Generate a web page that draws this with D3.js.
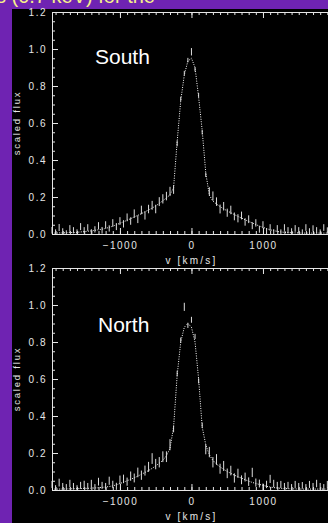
<!DOCTYPE html>
<html>
<head>
<meta charset="utf-8">
<script src="https://cdn.jsdelivr.net/npm/d3@7"></script>
<style>
  html, body { margin: 0; padding: 0; background: #6f23b2; overflow: hidden; }
  svg { display: block; }
</style>
</head>
<body>
<script>
// line profiles (0.7 keV) - South / North

const vel = [
  -1950, -1900, -1850, -1800, -1750, -1700, -1650, -1600, -1550, -1500,
  -1450, -1400, -1350, -1300, -1250, -1200, -1150, -1100, -1050, -1000,
  -950, -900, -850, -800, -750, -700, -650, -600, -550, -500,
  -450, -400, -350, -300, -250, -200, -150, -100, -50, 0,
  50, 100, 150, 200, 250, 300, 350, 400, 450, 500,
  550, 600, 650, 700, 750, 800, 850, 900, 950, 1000,
  1050, 1100, 1150, 1200, 1250, 1300, 1350, 1400, 1450, 1500,
  1550, 1600, 1650, 1700, 1750, 1800, 1850, 1900, 1950
]

const southModel = [
  0.005, 0.005, 0.006, 0.006, 0.007, 0.008, 0.008, 0.009, 0.011, 0.013,
  0.015, 0.017, 0.020, 0.023, 0.026, 0.030, 0.036, 0.042, 0.050, 0.058,
  0.066, 0.074, 0.083, 0.092, 0.101, 0.110, 0.120, 0.130, 0.140, 0.152,
  0.165, 0.180, 0.195, 0.212, 0.250, 0.500, 0.720, 0.860, 0.935, 0.950,
  0.900, 0.740, 0.560, 0.330, 0.210, 0.178, 0.162, 0.148, 0.136, 0.125,
  0.115, 0.105, 0.095, 0.086, 0.077, 0.068, 0.060, 0.051, 0.043, 0.036,
  0.029, 0.023, 0.018, 0.014, 0.011, 0.009, 0.008, 0.007, 0.006, 0.006,
  0.005, 0.005, 0.005, 0.005, 0.005, 0.005, 0.005, 0.005, 0.005
]
const southFlux = [
  0.020, 0.010, 0.035, 0.015, 0.005, 0.030, 0.020, 0.010, 0.040, 0.020,
  0.035, 0.010, 0.025, 0.045, 0.020, 0.050, 0.030, 0.060, 0.040, 0.070,
  0.055, 0.090, 0.070, 0.110, 0.080, 0.130, 0.100, 0.135, 0.155, 0.135,
  0.175, 0.190, 0.205, 0.230, 0.240, 0.490, 0.730, 0.870, 0.940, 0.985,
  0.890, 0.750, 0.550, 0.320, 0.230, 0.205, 0.175, 0.135, 0.150, 0.115,
  0.130, 0.095, 0.085, 0.100, 0.065, 0.080, 0.045, 0.060, 0.025, 0.050,
  0.015, 0.035, 0.010, 0.030, 0.010, 0.035, 0.020, 0.015, 0.030, 0.020,
  0.010, 0.035, 0.015, 0.030, 0.020, 0.010, 0.035, 0.020, 0.030
]
const southErr = [
  0.018, 0.015, 0.019, 0.016, 0.015, 0.018, 0.017, 0.015, 0.019, 0.017,
  0.018, 0.016, 0.017, 0.019, 0.018, 0.019, 0.017, 0.020, 0.019, 0.021,
  0.020, 0.021, 0.020, 0.023, 0.021, 0.023, 0.022, 0.023, 0.024, 0.023,
  0.024, 0.025, 0.023, 0.025, 0.023, 0.015, 0.012, 0.012, 0.012, 0.020,
  0.012, 0.012, 0.012, 0.012, 0.023, 0.025, 0.023, 0.024, 0.023, 0.022,
  0.023, 0.021, 0.022, 0.021, 0.020, 0.021, 0.019, 0.020, 0.018, 0.019,
  0.017, 0.018, 0.016, 0.018, 0.015, 0.018, 0.017, 0.016, 0.018, 0.017,
  0.015, 0.018, 0.016, 0.017, 0.017, 0.015, 0.018, 0.016, 0.017
]

const northModel = [
  0.005, 0.005, 0.005, 0.005, 0.006, 0.006, 0.007, 0.007, 0.008, 0.008,
  0.009, 0.010, 0.011, 0.012, 0.014, 0.016, 0.019, 0.022, 0.028, 0.035,
  0.042, 0.050, 0.058, 0.066, 0.075, 0.085, 0.095, 0.105, 0.117, 0.130,
  0.145, 0.160, 0.185, 0.225, 0.340, 0.620, 0.800, 0.880, 0.900, 0.880,
  0.800, 0.600, 0.340, 0.245, 0.190, 0.160, 0.140, 0.125, 0.112, 0.100,
  0.090, 0.080, 0.072, 0.064, 0.056, 0.048, 0.041, 0.035, 0.030, 0.025,
  0.020, 0.016, 0.013, 0.011, 0.009, 0.008, 0.007, 0.006, 0.006, 0.005,
  0.005, 0.005, 0.005, 0.005, 0.005, 0.005, 0.005, 0.005, 0.005
]
const northFlux = [
  0.030, 0.010, 0.040, 0.020, 0.015, 0.035, 0.020, 0.010, 0.025, 0.030,
  0.020, 0.035, 0.015, 0.045, 0.025, 0.020, 0.050, 0.030, 0.020, 0.055,
  0.060, 0.045, 0.075, 0.065, 0.095, 0.080, 0.105, 0.125, 0.170, 0.140,
  0.150, 0.180, 0.180, 0.245, 0.330, 0.630, 0.810, 0.990, 0.890, 0.920,
  0.830, 0.590, 0.350, 0.220, 0.205, 0.150, 0.165, 0.115, 0.130, 0.090,
  0.105, 0.065, 0.090, 0.055, 0.070, 0.045, 0.095, 0.040, 0.035, 0.015,
  0.030, 0.060, 0.035, 0.025, 0.030, 0.020, 0.025, 0.015, 0.030, 0.020,
  0.025, 0.015, 0.030, 0.020, 0.035, 0.020, 0.015, 0.030, 0.025
]
const northErr = [
  0.019, 0.016, 0.021, 0.018, 0.017, 0.020, 0.018, 0.016, 0.019, 0.020,
  0.018, 0.020, 0.017, 0.021, 0.019, 0.018, 0.022, 0.020, 0.019, 0.023,
  0.023, 0.022, 0.025, 0.024, 0.026, 0.025, 0.027, 0.027, 0.029, 0.028,
  0.028, 0.029, 0.029, 0.030, 0.018, 0.015, 0.014, 0.022, 0.014, 0.016,
  0.014, 0.014, 0.014, 0.027, 0.028, 0.028, 0.029, 0.027, 0.027, 0.026,
  0.026, 0.025, 0.025, 0.024, 0.024, 0.023, 0.025, 0.022, 0.021, 0.020,
  0.020, 0.022, 0.020, 0.019, 0.019, 0.018, 0.019, 0.017, 0.019, 0.018,
  0.018, 0.017, 0.019, 0.018, 0.020, 0.018, 0.017, 0.019, 0.018
]

const yTicks = [0, 0.2, 0.4, 0.6, 0.8, 1.0, 1.2]
const xTicks = [-1000, 0, 1000]
const headerText = 's (0.7 keV) for the'

const W = 328, H = 523
const ink = '#e6e6e6'
const font = '"Liberation Sans", Arial, Helvetica, sans-serif'

const svg = d3.select('body').append('svg')
  .attr('width', W)
  .attr('height', H)

// purple slide background + black figure
svg.append('rect').attr('width', W).attr('height', H).attr('fill', '#6f23b2')
svg.append('rect').attr('x', 12).attr('y', 9).attr('width', W - 12).attr('height', H - 9).attr('fill', '#000')

svg.append('text')
  .attr('x', 155)
  .attr('y', 3)
  .attr('text-anchor', 'end')
  .attr('font-family', font)
  .attr('font-size', '20px')
  .attr('fill', '#f6f08a')
  .text(headerText)

const x = d3.scaleLinear().domain([-1950, 2000]).range([52, 334.5])

function drawPanel(top, bottom, label, labelX, labelY, model, flux, err) {
  const y = d3.scaleLinear().domain([0, 1.2]).range([bottom, top])
  const g = svg.append('g')

  // minor ticks
  g.append('g')
    .attr('transform', `translate(52,0)`)
    .call(d3.axisLeft(y).tickValues(d3.range(0, 1.201, 0.05)).tickSize(-3).tickSizeOuter(0).tickFormat(''))
  g.append('g')
    .attr('transform', `translate(0,${bottom})`)
    .call(d3.axisBottom(x).tickValues(d3.range(-1900, 2000, 100)).tickSize(-3).tickSizeOuter(0).tickFormat(''))
  g.append('g')
    .attr('transform', `translate(0,${top})`)
    .call(d3.axisTop(x).tickValues(d3.range(-1900, 2000, 100)).tickSize(-3).tickSizeOuter(0).tickFormat(''))

  // major ticks + labels
  g.append('g')
    .attr('transform', `translate(52,0)`)
    .call(d3.axisLeft(y).tickValues(yTicks).tickSize(-6).tickSizeOuter(0).tickPadding(5).tickFormat(d3.format('.1f')))
  g.append('g')
    .attr('transform', `translate(0,${bottom})`)
    .call(d3.axisBottom(x).tickValues(xTicks).tickSize(-6).tickSizeOuter(0).tickPadding(8)
      .tickFormat(d => d < 0 ? '\u2212' + Math.abs(d) : String(d)))
  g.append('g')
    .attr('transform', `translate(0,${top})`)
    .call(d3.axisTop(x).tickValues(xTicks).tickSize(-6).tickSizeOuter(0).tickFormat(''))

  g.selectAll('.domain, .tick line').attr('stroke', ink).attr('stroke-width', 1)
  g.selectAll('.tick text')
    .attr('fill', ink)
    .attr('font-family', font)
    .attr('font-size', '10px')
    .attr('letter-spacing', '1.5px')

  // axis titles
  g.append('text')
    .attr('transform', `translate(20,${(top + bottom) / 2}) rotate(-90)`)
    .attr('text-anchor', 'middle')
    .attr('font-family', font)
    .attr('font-size', '9.5px')
    .attr('letter-spacing', '1.8px')
    .attr('fill', ink)
    .text('scaled flux')

  g.append('text')
    .attr('x', x(0))
    .attr('y', bottom + 30)
    .attr('text-anchor', 'middle')
    .attr('font-family', font)
    .attr('font-size', '10px')
    .attr('letter-spacing', '2.2px')
    .attr('fill', ink)
    .text('v [km/s]')

  // model profile (dotted)
  const line = d3.line()
    .x((d, i) => x(vel[i]))
    .y(d => y(d))

  g.append('path')
    .datum(model)
    .attr('fill', 'none')
    .attr('stroke', '#ffffff')
    .attr('stroke-width', 1)
    .attr('stroke-dasharray', '1,1.4')
    .attr('d', line)

  // data error bars
  g.selectAll('.bar')
    .data(flux)
    .enter()
    .append('line')
    .attr('x1', (d, i) => x(vel[i]))
    .attr('x2', (d, i) => x(vel[i]))
    .attr('y1', (d, i) => y(Math.max(0, d - err[i])))
    .attr('y2', (d, i) => y(d + err[i]))
    .attr('stroke', '#dcdcdc')
    .attr('stroke-width', 1)

  g.append('text')
    .attr('x', labelX)
    .attr('y', labelY)
    .attr('font-family', font)
    .attr('font-size', '21px')
    .attr('fill', '#ffffff')
    .text(label)
}

drawPanel(12, 234, 'South', 95, 64, southModel, southFlux, southErr)
drawPanel(268, 490, 'North', 98, 332, northModel, northFlux, northErr)
</script>
</body>
</html>
